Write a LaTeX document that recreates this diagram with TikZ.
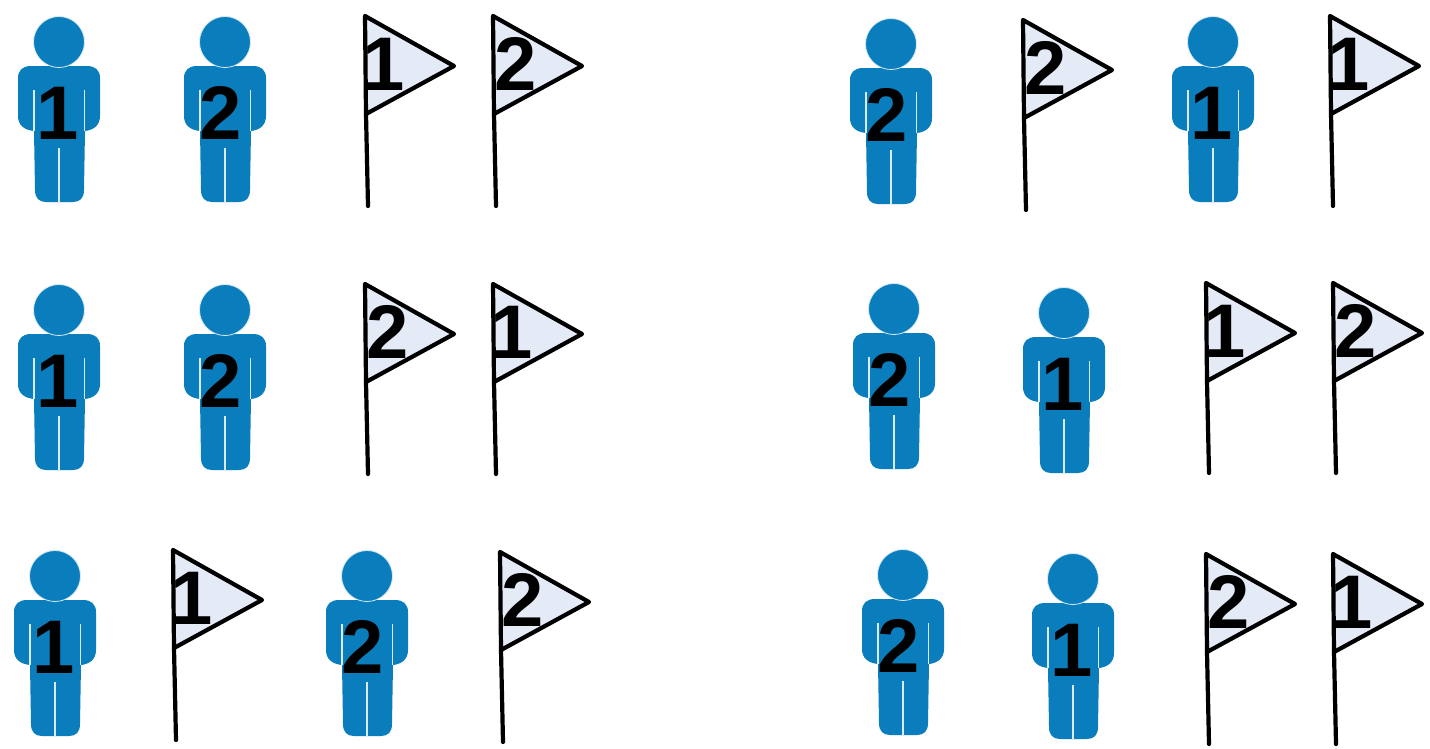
\documentclass[tikz,border=0pt]{standalone}
\usepackage{fontspec}
\setmainfont{Liberation Sans}
\definecolor{pblue}{HTML}{0A7DBD}
\definecolor{flagfill}{HTML}{E4EAF6}
\tikzset{
  x=1pt,y=-1pt,
  persona/.style={fill=pblue,draw=none},
  gapline/.style={draw=white!85!pblue,line width=1.3pt},
  headshape/.style={fill=pblue,draw=white!85!pblue,line width=0.8pt},
  digit/.style={font=\fontsize{76}{76}\selectfont\bfseries,text=black,inner sep=0pt,anchor=center},
  flagtri/.style={fill=flagfill,draw=black,line width=4.2pt,line join=round},
  flagpole/.style={draw=black,line width=4.2pt,line cap=round},
}
% #1 name, #2 head x, #3 head y, #4 digit
\newcommand{\personfig}[4]{%
  \begin{scope}[shift={(#2,#3)}]
    \path[persona] (-41,36)
      .. controls (-41,28) and (-36,24) .. (-28,24)
      -- (28,24)
      .. controls (36,24) and (41,28) .. (41,36)
      -- (41,74)
      .. controls (41,83) and (35,88) .. (26,89)
      -- (25,148)
      .. controls (25,156) and (21,160) .. (14,160)
      -- (-13,160)
      .. controls (-20,160) and (-24,156) .. (-24,148)
      -- (-25,89)
      .. controls (-35,88) and (-41,83) .. (-41,74)
      -- cycle;
    \draw[gapline] (-25,48) -- (-25,89);
    \draw[gapline] (25.5,48) -- (25.5,89);
    \draw[gapline] (0,106) -- (0,161);
    \node[circle,headshape,minimum size=51pt,inner sep=0pt] (#1head) at (0,0) {};
    \ifnum#4=1
      \node[digit] (#1num) at (-1,71) {#4};
    \else
      \node[digit] (#1num) at (-4,71) {#4};
    \fi
  \end{scope}}
% #1 name, #2 pole top x, #3 pole top y, #4 digit
\newcommand{\flagfig}[4]{%
  \begin{scope}[shift={(#2,#3)}]
    \coordinate (#1top) at (0,0);
    \coordinate (#1tip) at (89,50);
    \coordinate (#1low) at (1,98);
    \coordinate (#1foot) at (3,190);
    \draw[flagpole] (#1low) -- (#1foot);
    \draw[flagtri] (#1top) -- (#1tip) -- (#1low) -- cycle;
    \ifnum#4=1
      \node[digit] (#1num) at (19,48) {#4};
    \else
      \node[digit] (#1num) at (23,48) {#4};
    \fi
  \end{scope}}
\begin{document}
\begin{tikzpicture}
\useasboundingbox (0,0) rectangle (1430,748);
% left column
\personfig{a}{59}{42}{1}
\personfig{b}{225}{42}{2}
\flagfig{c}{365}{16}{1}
\flagfig{d}{493}{16}{2}
\personfig{e}{59}{310}{1}
\personfig{f}{225}{310}{2}
\flagfig{g}{365}{284}{2}
\flagfig{h}{493}{284}{1}
\personfig{i}{55}{576}{1}
\flagfig{j}{173}{550}{1}
\personfig{k}{367}{576}{2}
\flagfig{l}{500}{552}{2}
% right column
\personfig{m}{891}{44}{2}
\flagfig{n}{1023}{20}{2}
\personfig{o}{1213}{42}{1}
\flagfig{p}{1330}{16}{1}
\personfig{q}{894}{309}{2}
\personfig{r}{1064}{313}{1}
\flagfig{s}{1206}{283}{1}
\flagfig{t}{1333}{283}{2}
\personfig{u}{903}{575}{2}
\personfig{v}{1073}{579}{1}
\flagfig{w}{1206}{554}{2}
\flagfig{x}{1333}{554}{1}
\end{tikzpicture}
\end{document}
